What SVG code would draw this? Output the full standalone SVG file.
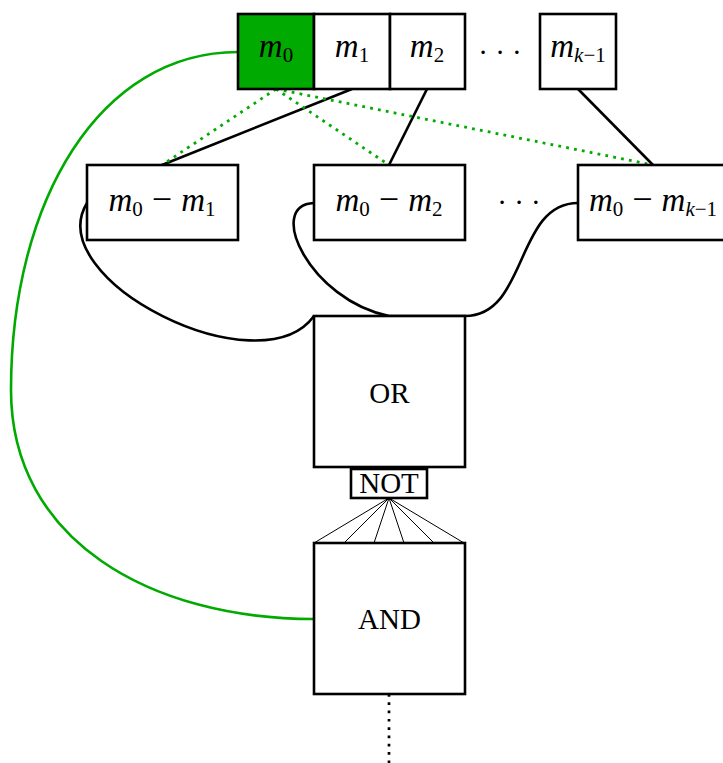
<svg xmlns="http://www.w3.org/2000/svg" width="723" height="763" viewBox="0 0 723 763">
<style>
.box{fill:#fff;stroke:#000;stroke-width:2.6}
.grn{fill:#00aa00;stroke:#000;stroke-width:2.6}
.ln{fill:none;stroke:#000;stroke-width:2.6}
.thin{fill:none;stroke:#000;stroke-width:1}
.gl{fill:none;stroke:#00aa00;stroke-width:2.6}
.gd{fill:none;stroke:#00aa00;stroke-width:2.8;stroke-dasharray:2.8 5.2}
.bd{fill:none;stroke:#000;stroke-width:2.7;stroke-dasharray:2.7 5.6}
.rm{font-family:"Liberation Serif",serif;font-size:29px;fill:#000;text-anchor:middle}
.mt{font-family:"Liberation Serif",serif;font-size:30px;fill:#000;text-anchor:middle}
.it{font-style:italic;font-size:33px}
.op{font-size:36px}
.sb{font-size:21px}
.sb .it{font-size:21px}
</style>
<rect width="723" height="763" fill="#fff"/>
<g id="connectors">
  <path class="gl" d="M238,52 C100,52 11,200 11,390 C11,540 150,619 314,619"/>
  <path class="ln" d="M352,89 L162,165"/>
  <path class="ln" d="M427,89 L389,165"/>
  <path class="ln" d="M578,89 L653,165"/>
  <path class="gd" d="M276,89 L162,165"/>
  <path class="gd" d="M276,89 L389,165"/>
  <path class="gd" d="M276,89 L653,165"/>
  <path class="ln" d="M87,203 C40,280 260,390 314,316"/>
  <path class="ln" d="M314,203 C265,205 310,300 389,316"/>
  <path class="ln" d="M578,203 C515,203 528,316 465,316 L389,316"/>
  <path class="thin" d="M389,498 L314,543 M389,498 L344,543 M389,498 L374,543 M389,498 L404,543 M389,498 L434,543 M389,498 L464,543"/>
  <path class="bd" d="M389,694 L389,763"/>
</g>
<g id="m0">
  <rect class="grn" x="238" y="14" width="76" height="75"/>
  <text class="mt" x="276" y="57"><tspan class="it">m</tspan><tspan class="sb" dy="5">0</tspan></text>
</g>
<g id="m1">
  <rect class="box" x="314" y="14" width="76" height="75"/>
  <text class="mt" x="352" y="57"><tspan class="it">m</tspan><tspan class="sb" dy="5">1</tspan></text>
</g>
<g id="m2">
  <rect class="box" x="390" y="14" width="75" height="75"/>
  <text class="mt" x="427" y="57"><tspan class="it">m</tspan><tspan class="sb" dy="5">2</tspan></text>
</g>
<g id="dots-top">
  <text class="rm" x="500" y="62">· · ·</text>
</g>
<g id="mk1">
  <rect class="box" x="540" y="14" width="76" height="75"/>
  <text class="mt" x="578" y="57"><tspan class="it">m</tspan><tspan class="sb" dy="5"><tspan class="it">k</tspan>−1</tspan></text>
</g>
<g id="m0-m1">
  <rect class="box" x="87" y="165" width="151" height="75"/>
  <text class="mt" x="162" y="211"><tspan class="it">m</tspan><tspan class="sb" dy="5">0</tspan><tspan class="op" dy="-5"> − </tspan><tspan class="it">m</tspan><tspan class="sb" dy="5">1</tspan></text>
</g>
<g id="m0-m2">
  <rect class="box" x="314" y="165" width="151" height="75"/>
  <text class="mt" x="389" y="211"><tspan class="it">m</tspan><tspan class="sb" dy="5">0</tspan><tspan class="op" dy="-5"> − </tspan><tspan class="it">m</tspan><tspan class="sb" dy="5">2</tspan></text>
</g>
<g id="dots-mid">
  <text class="rm" x="519" y="212">· · ·</text>
</g>
<g id="m0-mk1">
  <rect class="box" x="578" y="165" width="151" height="75"/>
  <text class="mt" x="653" y="211"><tspan class="it">m</tspan><tspan class="sb" dy="5">0</tspan><tspan class="op" dy="-5"> − </tspan><tspan class="it">m</tspan><tspan class="sb" dy="5"><tspan class="it">k</tspan>−1</tspan></text>
</g>
<g id="or">
  <rect class="box" x="314" y="316" width="151" height="151"/>
  <text class="rm" x="389.5" y="403">OR</text>
</g>
<g id="not">
  <rect class="box" x="351" y="469" width="76" height="29"/>
  <text class="rm" x="389" y="493">NOT</text>
</g>
<g id="and">
  <rect class="box" x="314" y="543" width="151" height="151"/>
  <text class="rm" x="389.5" y="629">AND</text>
</g>
</svg>
